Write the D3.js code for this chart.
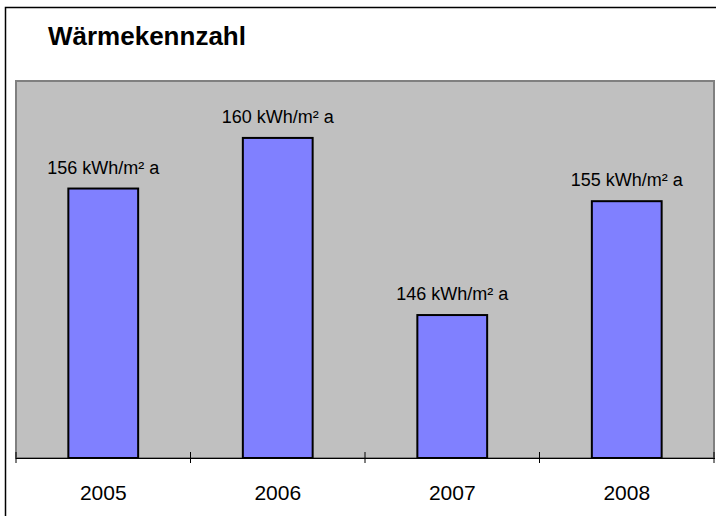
<!DOCTYPE html>
<html>
<head>
<meta charset="utf-8">
<script src="https://cdn.jsdelivr.net/npm/d3@7"></script>
<style>
  body { margin: 0; background: #fff; }
  text { font-family: "Liberation Sans", Arial, sans-serif; fill: #000; }
</style>
</head>
<body>
<script>
const years = ['2005', '2006', '2007', '2008'];
const values = [156, 160, 146, 155];
const valueLabels = ['156 kWh/m² a', '160 kWh/m² a', '146 kWh/m² a', '155 kWh/m² a'];
const title = 'Wärmekennzahl';

const w = 716, h = 516;
const plot = { left: 16, right: 714, top: 81, bottom: 458 };

const svg = d3.select('body').append('svg')
  .attr('width', w)
  .attr('height', h);

// outer chart frame
svg.append('rect')
  .attr('x', 5.5).attr('y', 7.5)
  .attr('width', w).attr('height', h)
  .attr('fill', '#fff')
  .attr('stroke', '#000')
  .attr('stroke-width', 1.5);

svg.append('text')
  .attr('x', 48).attr('y', 45)
  .attr('font-size', 26)
  .attr('font-weight', 'bold')
  .text(title);

// plot area
svg.append('rect')
  .attr('x', plot.left).attr('y', plot.top)
  .attr('width', plot.right - plot.left)
  .attr('height', plot.bottom - plot.top)
  .attr('fill', '#c0c0c0')
  .attr('stroke', '#808080')
  .attr('stroke-width', 2);

const x = d3.scaleBand()
  .domain(years)
  .range([plot.left, plot.right])
  .paddingInner(0.6)
  .paddingOuter(0.3);

const y = d3.scaleLinear()
  .domain([134.7, 164.5])
  .range([plot.bottom, plot.top]);

svg.append('g')
  .selectAll('rect')
  .data(values)
  .enter().append('rect')
    .attr('x', (d, i) => x(years[i]))
    .attr('y', d => y(d))
    .attr('width', x.bandwidth())
    .attr('height', d => plot.bottom - y(d))
    .attr('fill', '#8080ff')
    .attr('stroke', '#000')
    .attr('stroke-width', 2);

svg.append('g')
  .selectAll('text')
  .data(values)
  .enter().append('text')
    .attr('x', (d, i) => x(years[i]) + x.bandwidth() / 2)
    .attr('y', d => y(d) - 15)
    .attr('text-anchor', 'middle')
    .attr('font-size', 18)
    .text((d, i) => valueLabels[i]);

// category axis: ticks sit on the band boundaries
const step = x.step();
const boundaries = d3.range(years.length + 1).map(i => plot.left + i * step);

const axis = svg.append('g');
axis.append('line')
  .attr('x1', plot.left).attr('x2', plot.right + 1)
  .attr('y1', plot.bottom + 0.5).attr('y2', plot.bottom + 0.5)
  .attr('stroke', '#000')
  .attr('stroke-width', 1.2);

axis.selectAll('.tick')
  .data(boundaries)
  .enter().append('line')
    .attr('x1', d => d).attr('x2', d => d)
    .attr('y1', plot.bottom - 6).attr('y2', plot.bottom + 5)
    .attr('stroke', '#000');

axis.selectAll('.lbl')
  .data(years)
  .enter().append('text')
    .attr('x', d => x(d) + x.bandwidth() / 2)
    .attr('y', 500)
    .attr('text-anchor', 'middle')
    .attr('font-size', 21)
    .text(d => d);
</script>
</body>
</html>
